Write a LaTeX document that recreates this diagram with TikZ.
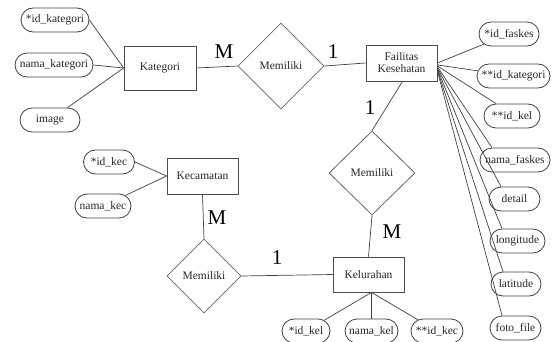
\documentclass[tikz,border=0pt]{standalone}
\usepackage{fontspec}
\setmainfont{Liberation Serif}
\usetikzlibrary{shapes.geometric,shapes.misc}
\begin{document}
\begin{tikzpicture}[x=1pt,y=-1pt,
  every node/.style={font=\fontsize{11.5}{13}\selectfont, text=black!85},
  entity/.style={draw=black!70, line width=0.8pt, rectangle, fill=white,
    minimum width=71pt, minimum height=36pt, inner sep=1pt, align=center},
  relation/.style={draw=black!60, line width=0.8pt, diamond, fill=white,
    minimum width=86pt, minimum height=86pt, inner sep=0pt},
  attr/.style={draw=black!75, line width=0.8pt, rounded rectangle, fill=white,
    minimum height=24pt, inner sep=1pt, inner xsep=2pt},
  card/.style={font=\fontsize{21}{23}\selectfont, text=black},
  link/.style={draw=black!75, line width=0.7pt}
]
\useasboundingbox (0,0) rectangle (556,342);

% entities
\node[entity, minimum width=72pt, minimum height=44pt] (kat) at (160,68) {Kategori};
\node[entity] (fk) at (401.5,63) {Failitas\\[-1pt]Kesehatan};
\node[entity] (kec) at (202.5,176) {Kecamatan};
\node[entity, minimum height=35pt] (kel) at (368.5,274.5) {Kelurahan};

% relationships
\node[relation] (r1) at (281,66) {Memiliki};
\node[relation, minimum height=84pt] (r2) at (372,173) {Memiliki};
\node[relation, minimum width=74pt, minimum height=74pt] (r3) at (204,276) {Memiliki};

% attributes of Kategori
\node[attr, minimum width=72pt] (ikat) at (55,20) {*id\_kategori};
\node[attr, minimum width=82pt] (nkat) at (54,65) {nama\_kategori};
\node[attr, minimum width=64pt] (img) at (50,120) {image};

% attributes of Kecamatan
\node[attr, minimum width=55pt] (ikec) at (109,162) {*id\_kec};
\node[attr, minimum width=60pt] (nkec) at (103,206) {nama\_kec};

% attributes of Kelurahan
\node[attr, minimum width=52pt] (ikel) at (306,331) {*id\_kel};
\node[attr, minimum width=57pt] (nkel) at (371.5,331) {nama\_kel};
\node[attr, minimum width=56pt] (fkec) at (437,331) {**id\_kec};

% attributes of Failitas Kesehatan
\node[attr, minimum width=64pt] (ifk) at (509,34) {*id\_faskes};
\node[attr, minimum width=77pt] (fkat) at (513.5,76) {**id\_kategori};
\node[attr, minimum width=60pt] (fkel) at (512,116) {**id\_kel};
\node[attr, minimum width=74pt] (nfk) at (515,160) {nama\_faskes};
\node[attr, minimum width=55pt] (det) at (514.5,199) {detail};
\node[attr, minimum width=59pt] (lon) at (517.5,241) {longitude};
\node[attr, minimum width=54pt] (lat) at (516,284) {latitude};
\node[attr, minimum width=55pt] (foto) at (515.5,328) {foto\_file};

% connectors between entities and relationships
\draw[link] (kat.east) -- (r1.west);
\draw[link] (r1.east) -- (fk.west);
\draw[link] ([xshift=1pt]fk.south) -- (r2.north);
\draw[link] (r2.south) -- (kel.north);
\draw[link] (kec.south) -- (r3.north);
\draw[link] (r3.east) -- (kel.west);

% attribute connectors
\draw[link] (ikat.east) -- (kat.west);
\draw[link] (nkat.east) -- (kat.west);
\draw[link] (img) -- (kat.west);
\draw[link] (ikec.east) -- (kec.west);
\draw[link] (nkec) -- (kec.west);
\draw[link] ([xshift=3pt]kel.south) -- (ikel);
\draw[link] ([xshift=3pt]kel.south) -- (nkel.north);
\draw[link] ([xshift=3pt]kel.south) -- (fkec);
\draw[link] (fk.east) -- (ifk);
\draw[link] ([yshift=-2pt]fk.east) -- (fkat);
\draw[link] ([yshift=-3pt]fk.east) -- (fkel.north west);
\draw[link] ([yshift=-4pt]fk.east) -- (nfk.north west);
\draw[link] ([yshift=-5pt]fk.east) -- (det.north west);
\draw[link] ([yshift=-6pt]fk.east) -- (lon.north west);
\draw[link] ([yshift=-7pt]fk.east) -- (lat.north west);
\draw[link] ([yshift=-8pt]fk.east) -- (foto.north west);

% cardinalities
\node[card] (c1) at (224,52) {M};
\node[card] (c2) at (333,52) {1};
\node[card] (c3) at (370,108) {1};
\node[card] (c4) at (392,232) {M};
\node[card] (c5) at (217,218) {M};
\node[card] (c6) at (277,258) {1};
\end{tikzpicture}
\end{document}
